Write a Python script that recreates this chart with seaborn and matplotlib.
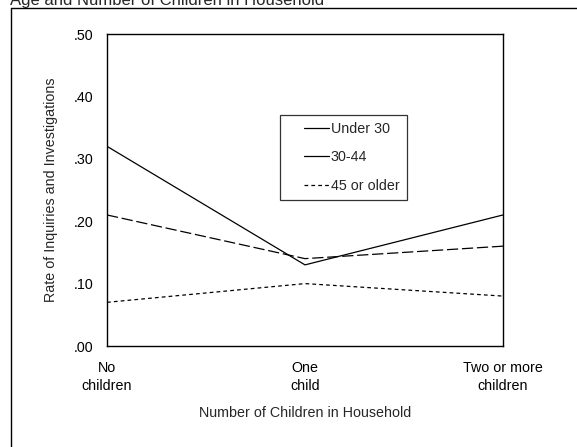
import matplotlib
matplotlib.use("Agg")
import matplotlib.pyplot as plt
from matplotlib.lines import Line2D
from matplotlib.legend_handler import HandlerLine2D
import numpy as np
import pandas as pd
import seaborn as sns

# Rates of inquiries and investigations by age group and household size
categories = ["No\nchildren", "One\nchild", "Two or more\nchildren"]
under_30 = [0.32, 0.13, 0.21]
age_30_44 = [0.21, 0.14, 0.16]
age_45_plus = [0.07, 0.10, 0.08]
groups = ["Under 30", "30-44", "45 or older"]
y_ticks = [0.0, 0.1, 0.2, 0.3, 0.4, 0.5]
y_tick_labels = [".00", ".10", ".20", ".30", ".40", ".50"]

df = pd.DataFrame({
    "children": categories * 3,
    "rate": under_30 + age_30_44 + age_45_plus,
    "group": [g for g in groups for _ in categories],
})

sns.set_style("white")
plt.rcParams["font.family"] = ["Liberation Sans", "DejaVu Sans"]
FS = 10.3

W, H = 577, 447
fig = plt.figure(figsize=(W / 100, H / 100), dpi=100)
ax = fig.add_axes([107 / W, 1 - 346 / H, (503 - 107) / W, (346 - 34) / H])

dash_styles = {"Under 30": "", "30-44": (9, 3), "45 or older": (3, 2.5)}
sns.lineplot(data=df, x="children", y="rate", hue="group", style="group",
             palette=["black"] * 3, dashes=dash_styles, sort=False,
             linewidth=0.9, ax=ax, legend=False)

ax.set_xlim(0, 2)
ax.set_ylim(0, 0.5)
ax.set_yticks(y_ticks)
ax.set_yticklabels(y_tick_labels)
ax.set_xticks(range(len(categories)))
ax.set_xticklabels(categories, linespacing=1.35)
ax.tick_params(axis="both", length=0, labelsize=FS, colors="black")
ax.tick_params(axis="y", pad=10)
ax.tick_params(axis="x", pad=11)
for s in ax.spines.values():
    s.set_visible(True)
    s.set_color("black")
    s.set_linewidth(1.0)

ax.set_xlabel("Number of Children in Household", fontsize=FS, labelpad=9)
ax.set_ylabel("Rate of Inquiries and Investigations", fontsize=FS, labelpad=11)


class ShortHandler(HandlerLine2D):
    def get_xdata(self, legend, xdescent, ydescent, width, height, fontsize):
        x = np.array([-xdescent + width * 0.4, -xdescent + width])
        return x, x


handles = [Line2D([0], [0], color="black", lw=0.9, linestyle="-"),
           Line2D([0], [0], color="black", lw=0.9, linestyle="-"),
           Line2D([0], [0], color="black", lw=0.9, linestyle=(0, (3, 2.5)))]
leg = ax.legend(handles, groups, loc="upper left",
                bbox_to_anchor=((280 - 107) / 396, (346 - 115) / 312),
                frameon=True, fancybox=False, shadow=False, fontsize=FS,
                handlelength=2.9, handletextpad=0.15, labelspacing=1.0,
                borderpad=0.5, borderaxespad=0,
                handler_map={h: ShortHandler() for h in handles})
leg.get_frame().set_edgecolor("black")
leg.get_frame().set_linewidth(0.9)

# Outer frame and the heading above it
fig.add_artist(Line2D([11 / W, 1.0], [1 - 8 / H, 1 - 8 / H],
                      transform=fig.transFigure, color="black", lw=1.0))
fig.add_artist(Line2D([11 / W, 11 / W], [0.0, 1 - 8 / H],
                      transform=fig.transFigure, color="black", lw=1.0))
fig.text(10 / W, 1 - 5 / H, "Age and Number of Children in Household",
         fontsize=12, ha="left", va="baseline")

fig.savefig("out.png", dpi=100, facecolor="white")
